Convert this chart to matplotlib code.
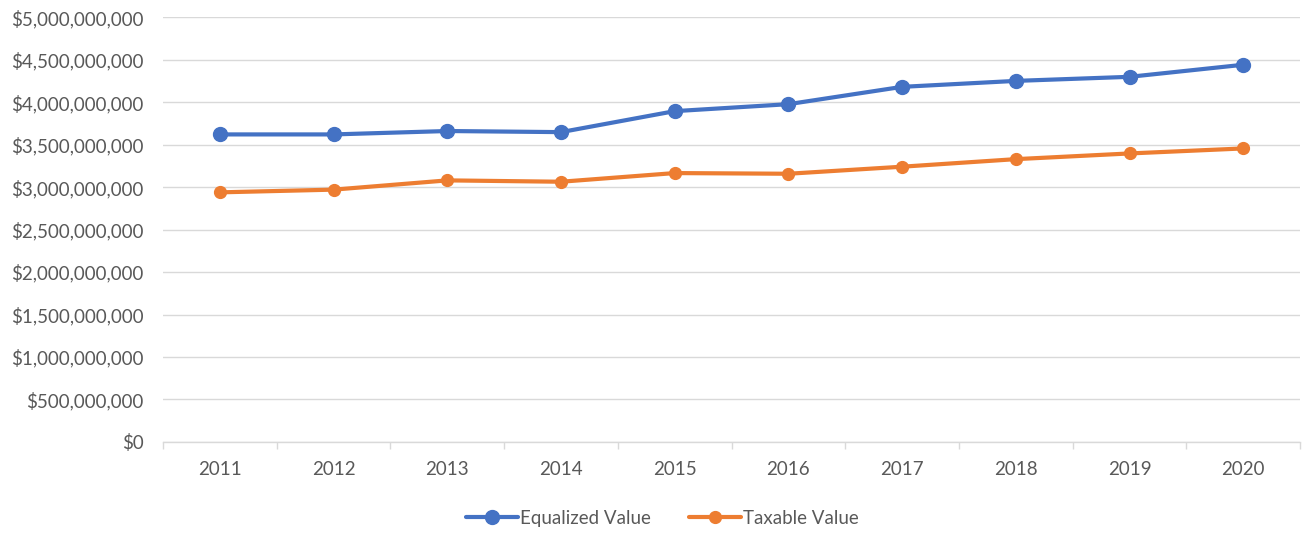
import matplotlib
matplotlib.use("Agg")
import matplotlib.pyplot as plt
from matplotlib.ticker import FuncFormatter, FixedLocator

years = ['2011', '2012', '2013', '2014', '2015', '2016', '2017', '2018', '2019', '2020']
equalized = [3.620e9, 3.620e9, 3.660e9, 3.647e9, 3.894e9, 3.976e9, 4.180e9, 4.250e9, 4.298e9, 4.440e9]
taxable = [2.938e9, 2.970e9, 3.079e9, 3.063e9, 3.165e9, 3.157e9, 3.240e9, 3.329e9, 3.396e9, 3.455e9]

plt.rcParams['font.family'] = ['Lato', 'DejaVu Sans']
text_color = '#595959'
grid_color = '#d9d9d9'
fs = 13.5

fig = plt.figure(figsize=(13.04, 5.37), dpi=100)
ax = fig.add_axes([0.125, 0.177, 0.872, 0.791])

x = list(range(len(years)))
ax.plot(x, equalized, color='#4472c4', linewidth=3, marker='o', markersize=10,
        label='Equalized Value', solid_capstyle='round', zorder=3)
ax.plot(x, taxable, color='#ed7d31', linewidth=3, marker='o', markersize=8.5,
        label='Taxable Value', solid_capstyle='round', zorder=3)

ax.set_xlim(-0.5, 9.5)
ax.set_ylim(0, 5e9)
ax.set_yticks([i * 5e8 for i in range(11)])
ax.yaxis.set_major_formatter(FuncFormatter(lambda v, p: '${:,.0f}'.format(v)))
ax.set_xticks(x)
ax.set_xticklabels(years)
ax.xaxis.set_minor_locator(FixedLocator([i - 0.5 for i in range(11)]))

ax.grid(axis='y', color=grid_color, linewidth=1)
ax.set_axisbelow(True)
for s in ['top', 'right', 'left']:
    ax.spines[s].set_visible(False)
ax.spines['bottom'].set_color(grid_color)
ax.spines['bottom'].set_linewidth(1)

ax.tick_params(axis='y', length=0, labelsize=fs, labelcolor=text_color, pad=14)
ax.tick_params(axis='x', which='major', length=0, labelsize=fs, labelcolor=text_color, pad=14)
ax.tick_params(axis='x', which='minor', length=5, color=grid_color, width=1)

leg = fig.legend(handles=ax.get_lines(), loc='center', bbox_to_anchor=(0.508, 0.035), ncol=2,
                 frameon=False, fontsize=fs, handlelength=2.8, handletextpad=0.1,
                 columnspacing=2.0)
for t in leg.get_texts():
    t.set_color(text_color)

fig.savefig('out.png', dpi=100)
